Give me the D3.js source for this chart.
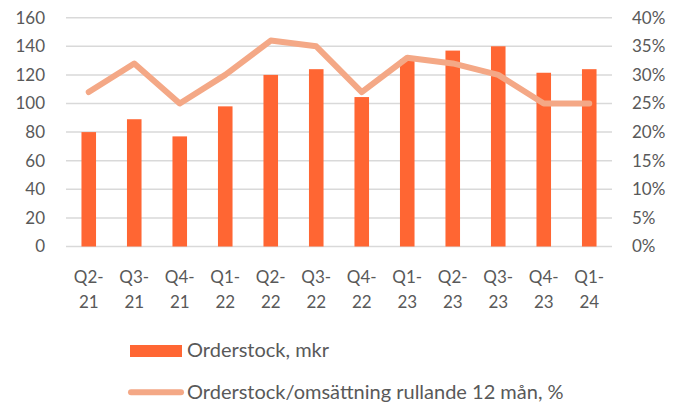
<!DOCTYPE html>
<html><head><meta charset="utf-8">
<script src="https://cdn.jsdelivr.net/npm/d3@7"></script>
<style>body{margin:0;background:#fff}svg{display:block;font-family:Lato,"Open Sans",sans-serif}</style>
</head><body><svg id="c" width="681" height="405"></svg>
<script>
const categories = ["Q2-21","Q3-21","Q4-21","Q1-22","Q2-22","Q3-22","Q4-22","Q1-23","Q2-23","Q3-23","Q4-23","Q1-24"];
const orderstock = [80, 89, 77, 98, 120, 124, 104.5, 131, 137, 140, 121.5, 124];
const ratioPct = [27, 32, 25, 30, 36, 35, 27, 33, 32, 30, 25, 25];
const leftTicks = [0,20,40,60,80,100,120,140,160];
const rightTicks = [0,5,10,15,20,25,30,35,40];
const seriesNames = ["Orderstock, mkr","Orderstock/omsättning rullande 12 mån, %"];

const svg = d3.select("#c");
const L = 66, R = 612, T = 17.7, B = 246.5;
const x = d3.scaleBand().domain(categories).range([L, R]);
const yL = d3.scaleLinear().domain([0,160]).range([B, T]);
const yR = d3.scaleLinear().domain([0,40]).range([B, T]);
const txt = "#595959", fs = 17;

svg.append("g").selectAll("line").data(leftTicks).join("line")
  .attr("x1", L).attr("x2", R).attr("y1", d=>yL(d)).attr("y2", d=>yL(d))
  .attr("stroke", "#D9D9D9").attr("stroke-width", 1.5);

const axL = svg.append("g").attr("transform", `translate(${L},0)`)
  .call(d3.axisLeft(yL).tickValues(leftTicks).tickSize(0).tickPadding(21));
const axR = svg.append("g").attr("transform", `translate(${R},0)`)
  .call(d3.axisRight(yR).tickValues(rightTicks).tickSize(0).tickPadding(20).tickFormat(d=>d+"%"));
[axL, axR].forEach(a => {
  a.select(".domain").remove();
  a.selectAll("text").attr("fill", txt).style("font-size", fs+"px").style("font-family","Lato");
});

const bw = x.bandwidth()*0.32;
svg.append("g").selectAll("rect").data(orderstock).join("rect")
  .attr("x", (d,i)=>x(categories[i]) + x.bandwidth()/2 - bw/2)
  .attr("width", bw)
  .attr("y", d=>yL(d)).attr("height", d=>B - yL(d))
  .attr("fill", "#FF6633");

const line = d3.line().x((d,i)=>x(categories[i]) + x.bandwidth()/2).y(d=>yR(d));
svg.append("path").datum(ratioPct).attr("d", line)
  .attr("fill","none").attr("stroke","#F4A886").attr("stroke-width",6)
  .attr("stroke-linecap","round").attr("stroke-linejoin","round");

const xl = svg.append("g");
categories.forEach(c => {
  const [a,b] = c.split("-");
  const t = xl.append("text").attr("text-anchor","middle").attr("fill",txt)
    .style("font-size", fs+"px").attr("x", x(c)+x.bandwidth()/2);
  t.append("tspan").attr("x", x(c)+x.bandwidth()/2).attr("y", 282.5).text(a+"-");
  t.append("tspan").attr("x", x(c)+x.bandwidth()/2).attr("y", 307.5).text(b);
});

const lfs = 20;
const lg = svg.append("g");
lg.append("rect").attr("x",130).attr("y",345).attr("width",52).attr("height",12).attr("fill","#FF6633");
lg.append("text").attr("x",187).attr("y",356.5).attr("fill",txt).style("font-size",lfs+"px").text(seriesNames[0]);
lg.append("line").attr("x1",131).attr("x2",181).attr("y1",392.3).attr("y2",392.3)
  .attr("stroke","#F4A886").attr("stroke-width",6).attr("stroke-linecap","round");
lg.append("text").attr("x",187).attr("y",399).attr("fill",txt).style("font-size",lfs+"px").text(seriesNames[1]);
</script></body></html>
